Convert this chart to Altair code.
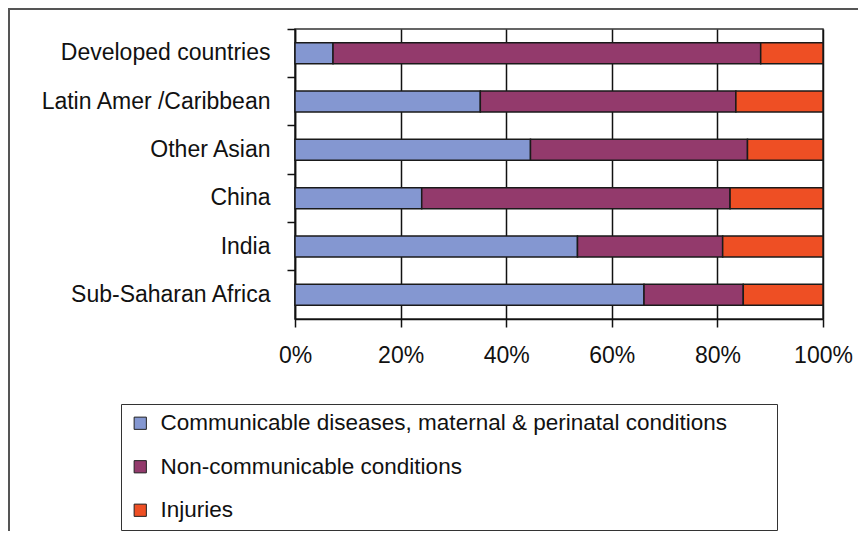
import altair as alt
import pandas as pd

categories = ["Developed countries", "Latin Amer /Caribbean", "Other Asian",
              "China", "India", "Sub-Saharan Africa"]
series = ["Communicable diseases, maternal & perinatal conditions",
          "Non-communicable conditions", "Injuries"]
communicable = [7.2, 35.1, 44.6, 24.0, 53.5, 66.1]
noncommunicable = [81.0, 48.4, 41.1, 58.4, 27.5, 18.8]
injuries = [11.8, 16.5, 14.3, 17.6, 19.0, 15.1]
x_ticks = [0, 0.2, 0.4, 0.6, 0.8, 1.0]
colors = ["#8497D1", "#933A6C", "#EE4F24"]

rows = []
for vals, si in ((communicable, 0), (noncommunicable, 1), (injuries, 2)):
    for c, v in zip(categories, vals):
        rows.append({"region": c, "cause": series[si], "order": si, "share": v})
df = pd.DataFrame(rows)

FONT = "Liberation Sans"

bars = alt.Chart(df).mark_bar(size=21, stroke="#1a1a1a", strokeWidth=1.5).encode(
    y=alt.Y("region:N", sort=categories,
            scale=alt.Scale(paddingInner=0, paddingOuter=0),
            axis=alt.Axis(title=None, bandPosition=0, labelPadding=17, tickSize=8,
                          grid=False, labelLimit=400)),
    x=alt.X("share:Q", stack="normalize",
            scale=alt.Scale(domain=[0, 1]),
            axis=alt.Axis(title=None, values=x_ticks, format=".0%", grid=True,
                          gridColor="#111", gridWidth=1.5, tickSize=8,
                          labelPadding=17, labelFlush=False)),
    color=alt.Color("cause:N", sort=series,
                    scale=alt.Scale(domain=series, range=colors),
                    legend=alt.Legend(title=" ", titleOrient="right", titlePadding=42,
                                      titleFontSize=10,
                                      orient="none", legendX=-174, legendY=375,
                                      strokeColor="#333", fillColor="white", padding=8,
                                      symbolType="square", symbolSize=150,
                                      symbolStrokeColor="#222", symbolStrokeWidth=1,
                                      rowPadding=20.5, labelOffset=9,
                                      labelFont=FONT, labelFontSize=22.5,
                                      labelColor="#111", labelLimit=800)),
    order=alt.Order("order:Q"),
)

frame = alt.Chart(pd.DataFrame({"k": [0]})).mark_rect(
    fill="transparent", stroke="#555", strokeWidth=2
).encode(
    x=alt.value(-286), x2=alt.value(620),
    y=alt.value(-20), y2=alt.value(560),
)

chart = alt.layer(frame, bars).properties(
    width=528, height=290,
    autosize=alt.AutoSizeParams(type="none"),
    padding={"left": 287, "top": 21, "right": 35, "bottom": 212},
).configure_view(
    stroke="#333", strokeWidth=1.5
).configure_axis(
    labelFont=FONT, labelFontSize=23, labelColor="#111",
    domainColor="#111", domainWidth=1.5,
    tickColor="#111", tickWidth=1.5,
)

chart.save("out.html", embed_options={"renderer": "svg", "actions": False})
